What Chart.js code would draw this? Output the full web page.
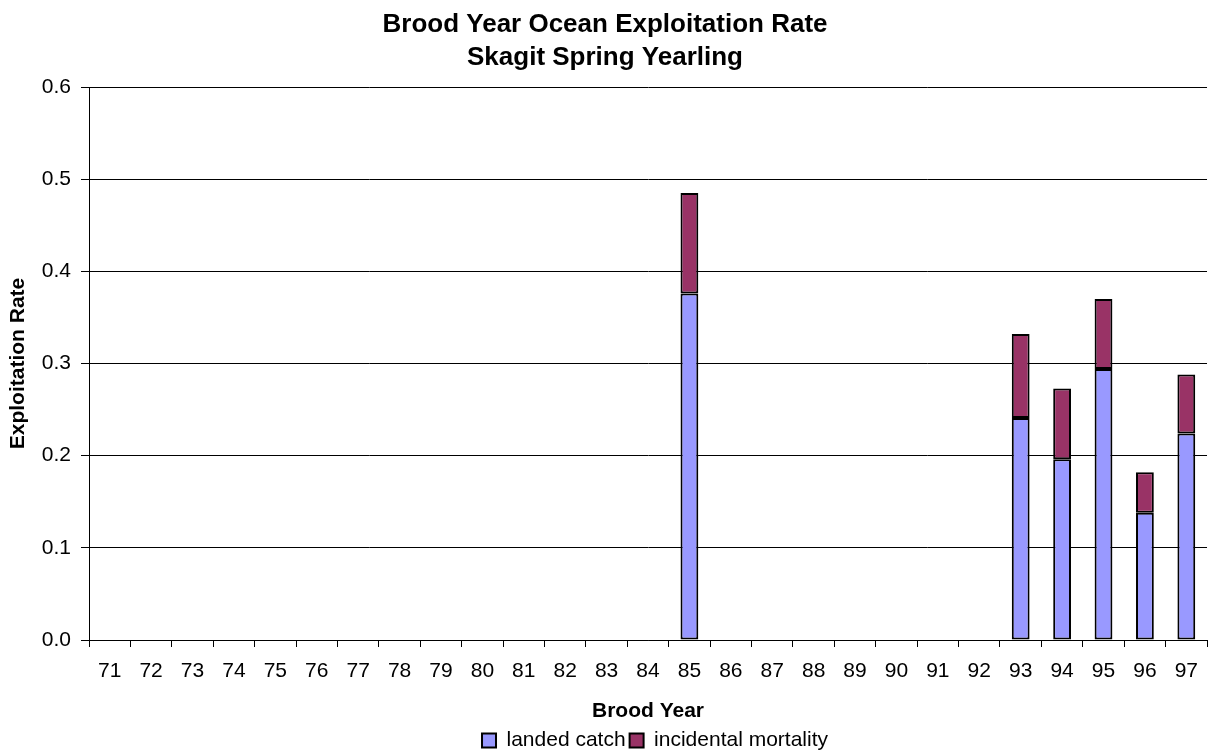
<!DOCTYPE html>
<html>
<head>
<meta charset="utf-8">
<script src="https://cdn.jsdelivr.net/npm/chart.js@4.4.1/dist/chart.umd.min.js"></script>
<style>
    html, body { margin: 0; padding: 0; background: #fff; }
    #wrap { width: 1210px; height: 752px; }
</style>
</head>
<body>
<div id="wrap"><canvas id="chart" width="1210" height="752"></canvas></div>
<script>
    "use strict";

    // brood years 71..97
    let years = ['71', '72', '73', '74', '75', '76', '77', '78', '79', '80', '81', '82', '83', '84',
        '85', '86', '87', '88', '89', '90', '91', '92', '93', '94', '95', '96', '97'];

    let landedCatch = [null, null, null, null, null, null, null, null, null, null, null, null, null, null,
        0.376, null, null, null, null, null, null, null, 0.241, 0.196, 0.294, 0.138, 0.224];

    let incidentalMortality = [null, null, null, null, null, null, null, null, null, null, null, null, null, null,
        0.109, null, null, null, null, null, null, null, 0.091, 0.077, 0.076, 0.044, 0.064];

    let yTicks = [0, 0.1, 0.2, 0.3, 0.4, 0.5, 0.6];

    let font = '"Liberation Sans", Arial, sans-serif';

    // legend sits centred under the plot area, not the whole canvas
    let legendShift = {
        id: 'legendShift',
        afterLayout(chart) {
            let lg = chart.legend;
            if (!lg) return;
            let dx = (chart.chartArea.left + chart.chartArea.right) / 2 - (lg.left + lg.right) / 2 + 7;
            lg.left += dx;
            lg.right += dx;
        },
    };

    new Chart(document.getElementById('chart'), {
        type: 'bar',
        data: {
            labels: years,
            datasets: [
                {
                    label: 'landed catch',
                    data: landedCatch,
                    backgroundColor: '#9999ff',
                    borderColor: '#000',
                    borderWidth: 2,
                    borderSkipped: false,
                },
                {
                    label: 'incidental mortality',
                    data: incidentalMortality,
                    backgroundColor: '#993366',
                    borderColor: '#000',
                    borderWidth: 2,
                    borderSkipped: false,
                },
            ],
        },
        plugins: [legendShift],
        options: {
            responsive: false,
            animation: false,
            layout: {
                padding: {left: 0, right: 0, top: 0, bottom: -9},
            },
            datasets: {
                bar: {
                    categoryPercentage: 1,
                    barPercentage: 0.43,
                },
            },
            plugins: {
                title: {
                    display: true,
                    text: ['Brood Year Ocean Exploitation Rate', 'Skagit Spring Yearling'],
                    color: '#000',
                    font: {family: font, size: 26, weight: 'bold', lineHeight: 1.27},
                    padding: {top: 8, bottom: 13},
                },
                legend: {
                    position: 'bottom',
                    labels: {
                        color: '#000',
                        font: {family: font, size: 21},
                        boxWidth: 14,
                        boxHeight: 14,
                        padding: 4,
                    },
                },
                tooltip: {enabled: false},
            },
            scales: {
                x: {
                    stacked: true,
                    afterFit: function (scale) {
                        scale.height = 86;
                    },
                    grid: {
                        offset: true,
                        drawOnChartArea: false,
                        drawTicks: true,
                        tickLength: 7,
                        color: '#000',
                    },
                    border: {color: '#000', width: 1},
                    ticks: {
                        color: '#000',
                        font: {family: font, size: 21},
                        maxRotation: 0,
                        autoSkip: false,
                        padding: 12,
                    },
                    title: {
                        display: true,
                        text: 'Brood Year',
                        color: '#000',
                        font: {family: font, size: 21, weight: 'bold'},
                        padding: {top: 4, bottom: 2},
                    },
                },
                y: {
                    stacked: true,
                    min: 0,
                    max: 0.6,
                    afterFit: function (scale) {
                        scale.width = 89;
                    },
                    afterBuildTicks: function (axis) {
                        axis.ticks = yTicks.map(function (v) { return {value: v}; });
                    },
                    grid: {
                        color: '#000',
                        tickLength: 8,
                        lineWidth: 1,
                    },
                    border: {color: '#000', width: 1},
                    ticks: {
                        color: '#000',
                        font: {family: font, size: 21},
                        padding: 10,
                        callback: function (v) { return Number(v).toFixed(1); },
                    },
                    title: {
                        display: true,
                        text: 'Exploitation Rate',
                        color: '#000',
                        font: {family: font, size: 21, weight: 'bold'},
                        padding: {top: 6, bottom: 0},
                    },
                },
            },
        },
    });
</script>
</body>
</html>
